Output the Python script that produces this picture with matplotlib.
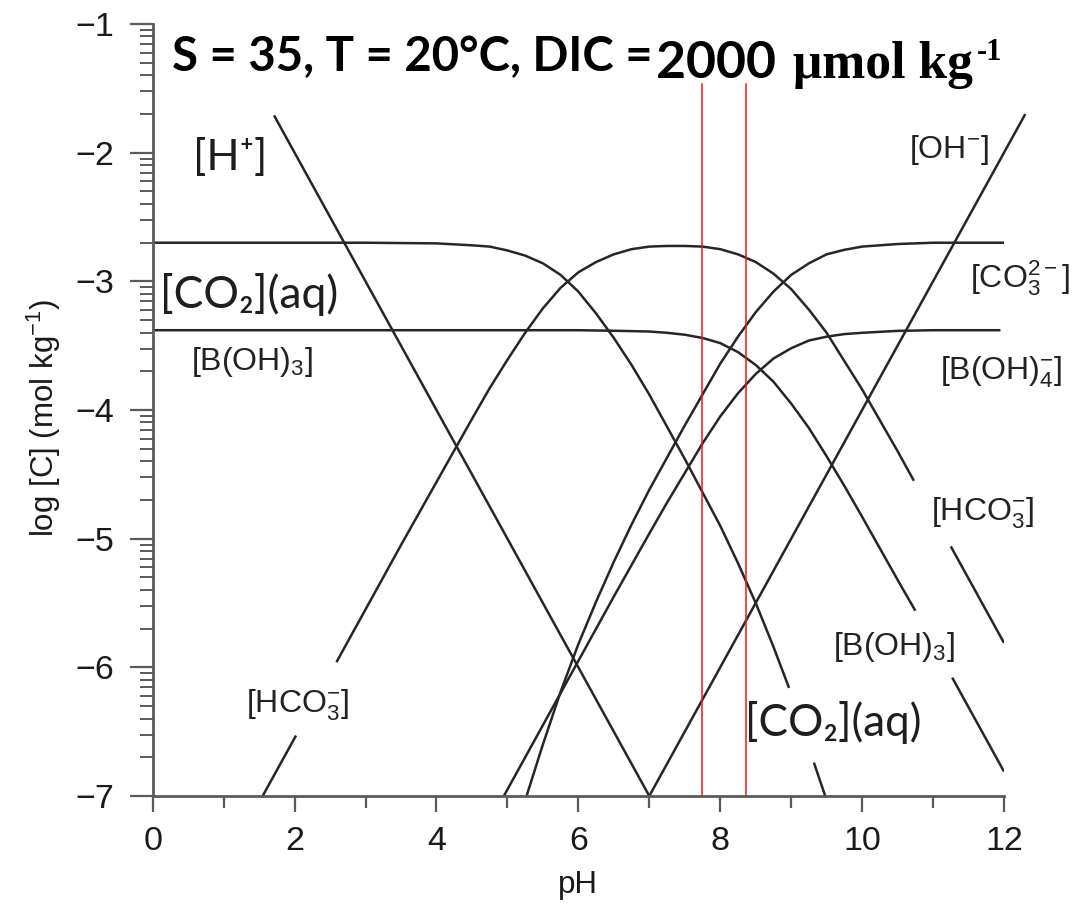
import numpy as np
import matplotlib
matplotlib.use('Agg')
import matplotlib.pyplot as plt

plt.rcParams['mathtext.fontset'] = 'custom'
plt.rcParams['mathtext.rm'] = 'Liberation Sans'
plt.rcParams['mathtext.it'] = 'Liberation Sans:italic'
plt.rcParams['mathtext.bf'] = 'Liberation Sans:bold'
plt.rcParams['font.family'] = ['Liberation Sans', 'DejaVu Sans']

nan = np.nan

# ---- data (pH, log concentration) ----
ph_h = [1.71, 7.0]
log_h = [-1.71, -7.0]

ph_oh = [7.0, 12.3]
log_oh = [-7.0, -1.7]

ph_co2 = [0, 3, 4, 4.5, 4.75, 5, 5.25, 5.5, 5.75, 6, 6.25, 6.5, 6.75, 7, 7.5, 8, 8.25, 8.5, 8.75, 8.97, nan, 9.32, 9.48]
log_co2 = [-2.70, -2.70, -2.705, -2.72, -2.73, -2.76, -2.80, -2.86, -2.95, -3.08, -3.25, -3.44, -3.65, -3.88, -4.38, -4.90, -5.19, -5.50, -5.84, -6.16, nan, -6.74, -7.0]

ph_hco3 = [1.55, 2.02, nan, 2.59, 3, 3.5, 4, 4.5, 4.75, 5, 5.25, 5.5, 5.75, 6, 6.25, 6.5, 6.75, 7, 7.25, 7.5, 7.75, 8, 8.25, 8.5, 8.75, 9, 9.25, 9.5, 9.75, 10, 10.5, 10.73, nan, 11.25, 11.5, 12]
log_hco3 = [-7.0, -6.53, nan, -5.96, -5.55, -5.05, -4.56, -4.07, -3.83, -3.61, -3.40, -3.21, -3.05, -2.93, -2.85, -2.79, -2.75, -2.73, -2.725, -2.725, -2.73, -2.75, -2.79, -2.85, -2.94, -3.06, -3.22, -3.40, -3.62, -3.84, -4.32, -4.55, nan, -5.06, -5.31, -5.81]

ph_co3 = [5.27, 5.5, 5.75, 6, 6.25, 6.5, 6.75, 7, 7.5, 8, 8.25, 8.5, 8.75, 9, 9.25, 9.5, 9.75, 10, 10.5, 11, 12]
log_co3 = [-7.0, -6.60, -6.19, -5.82, -5.49, -5.18, -4.89, -4.62, -4.12, -3.64, -3.43, -3.24, -3.08, -2.95, -2.86, -2.79, -2.755, -2.73, -2.71, -2.70, -2.70]

ph_boh3 = [0, 6, 6.5, 7, 7.25, 7.5, 7.75, 8, 8.25, 8.5, 8.75, 9, 9.25, 9.5, 9.75, 10, 10.5, 10.75, nan, 11.27, 12]
log_boh3 = [-3.38, -3.38, -3.384, -3.39, -3.40, -3.415, -3.44, -3.48, -3.55, -3.65, -3.78, -3.95, -4.14, -4.36, -4.59, -4.83, -5.32, -5.56, nan, -6.08, -6.81]

ph_boh4 = [4.95, 5.5, 6, 6.5, 7, 7.25, 7.5, 7.75, 8, 8.25, 8.5, 8.75, 9, 9.25, 9.5, 9.75, 10, 10.5, 11, 11.95]
log_boh4 = [-7.0, -6.45, -5.95, -5.45, -4.96, -4.72, -4.49, -4.26, -4.05, -3.87, -3.72, -3.60, -3.52, -3.46, -3.43, -3.41, -3.40, -3.385, -3.38, -3.38]

ph_red = [7.75, 8.37]
red_top = -1.47

x_major = [0, 2, 4, 6, 8, 10, 12]
x_minor = [1, 3, 5, 7, 9, 11]
y_major = [-7, -6, -5, -4, -3, -2, -1]

title_main = 'S = 35, T = 20°C, DIC ='
title_num = '2000'
title_unit = 'μmol kg'
title_exp = '-1'

# ---- figure ----
W, H = 1077, 913
fig = plt.figure(figsize=(W / 100, H / 100), dpi=100)
X0, X1, Y0, Y1 = 152.7, 1004.0, 24.0, 796.0
ax = fig.add_axes([X0 / W, 1 - Y1 / H, (X1 - X0) / W, (Y1 - Y0) / H])
ax.set_xlim(0, 12)
ax.set_ylim(-7, -1)

line_c = '#262626'
lw = 1.8
for xs, ys in [(ph_h, log_h), (ph_co2, log_co2), (ph_hco3, log_hco3),
               (ph_co3, log_co3), (ph_boh3, log_boh3), (ph_boh4, log_boh4)]:
    ax.plot(xs, ys, color=line_c, lw=lw, solid_capstyle='butt')
ax.plot(ph_oh, log_oh, color=line_c, lw=lw, clip_on=False, solid_capstyle='butt')

for p in ph_red:
    ax.plot([p, p], [red_top, -7], color='#ff1010', lw=1.1, clip_on=False)

spine_c = '#5a5a5a'
for s in ['top', 'right']:
    ax.spines[s].set_visible(False)
for s in ['left', 'bottom']:
    ax.spines[s].set_color(spine_c)
    ax.spines[s].set_linewidth(2.0)

ax.set_xticks(x_major)
ax.set_xticks(x_minor, minor=True)
ax.set_yticks(y_major)
ax.set_yticks([n + np.log10(k) for n in range(-7, -1) for k in range(2, 10)], minor=True)
ax.set_xticklabels([str(v) for v in x_major])
ax.set_yticklabels(['\u2212' + str(-v) for v in y_major])

ax.tick_params(axis='x', which='major', direction='out', length=11.5, width=1.6,
               color=spine_c, pad=10, labelsize=24.5, labelcolor='#1a1a1a')
ax.tick_params(axis='x', which='minor', direction='out', length=8.5, width=1.6, color=spine_c)
ax.tick_params(axis='y', which='major', direction='out', length=16.5, width=1.6,
               color=spine_c, pad=11, labelsize=24.5, labelcolor='#1a1a1a')
ax.tick_params(axis='y', which='minor', direction='out', length=9.5, width=1.4, color=spine_c)

renderer = fig.canvas.get_renderer()


def put(x, y, s, width=None, size=20, ha='center', va='center', **kw):
    t = fig.text(x / W, 1 - y / H, s, ha=ha, va=va, fontsize=size, **kw)
    if width:
        w = t.get_window_extent(renderer).width
        t.set_fontsize(size * width / w)
    return t


calib = ['Lato', 'Noto Sans', 'DejaVu Sans']
serif = ['Liberation Serif', 'DejaVu Serif']
# title
put(172, 71, title_main, width=480, size=30, ha='left', va='baseline',
    family=calib, weight='bold', color='black')
put(656, 78, title_num, width=120, size=36, ha='left', va='baseline',
    family=calib, weight='bold', color='black')
put(793, 78, title_unit, width=180, size=36, ha='left', va='baseline',
    family=serif, weight='bold', color='black')
put(977, 60, title_exp, size=22, ha='left', va='baseline',
    family=serif, weight='bold', color='black')

# axis labels
put(578, 885, 'pH', size=22.5, color='#1a1a1a')
put(44, 418, 'log [C] (mol kg$^{-1}$)', size=22.5, rotation=90, color='#1a1a1a')

# species labels (calibri-like)
lab_c = '#1e1e1e'
put(230, 158, '[H\u207a]', width=74, size=28, family=calib, color=lab_c)
put(249, 294, '[CO\u2082](aq)', width=178, size=28, family=calib, color=lab_c)
put(833, 722, '[CO\u2082](aq)', width=176, size=28, family=calib, color=lab_c)

# species labels (helvetica-like)
hs = 23
hc = '#222222'
put(252, 362, '[B(OH)$_3$]', size=hs, color=hc)
put(297, 705, '[HCO$_3^{-}$]', size=hs, color=hc)
put(949, 150, '[OH$^{-}$]', size=hs, color=hc)
put(1020, 278, '[CO$_3^{2-}$]', size=hs, color=hc)
put(1001, 372, '[B(OH)$_4^{-}$]', size=hs, color=hc)
put(982, 513, '[HCO$_3^{-}$]', size=hs, color=hc)
put(894, 647, '[B(OH)$_3$]', size=hs, color=hc)

fig.savefig('out.png', dpi=100)
